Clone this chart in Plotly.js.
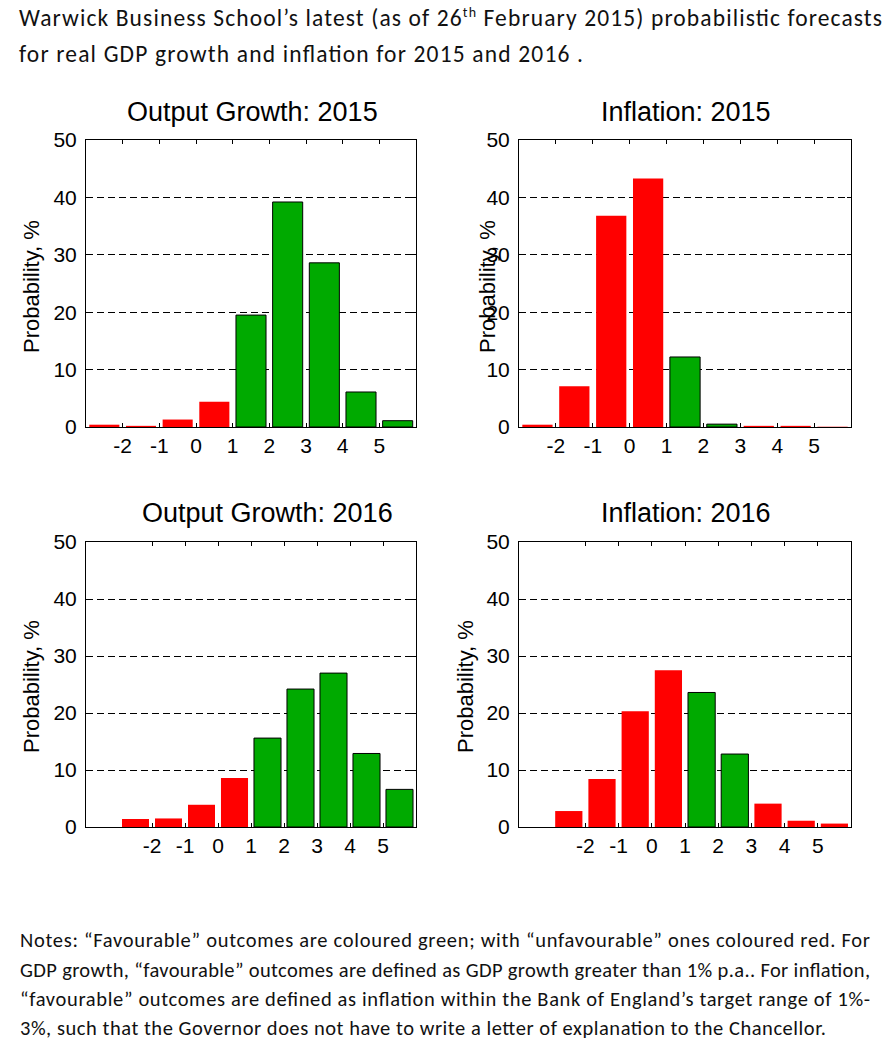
<!DOCTYPE html>
<html>
<head>
<meta charset="utf-8">
<script src="https://cdn.plot.ly/plotly-3.0.1.min.js"></script>
<style>
  html, body { margin: 0; padding: 0; background: #fff; }
  #wrap { position: relative; width: 890px; height: 1053px; overflow: hidden; }
  #chart { position: absolute; left: 0; top: 0; width: 890px; height: 1053px; }
  #txt { position: absolute; left: 0; top: 0; pointer-events: none; }
  #txt text { font-family: Carlito, Calibri, Lato, "Open Sans", sans-serif; fill: #111; }
</style>
</head>
<body>
<div id="wrap">
  <div id="chart"></div>
  <svg id="txt" width="890" height="1053">
    <text x="19" y="26" font-size="23.5" textLength="863" lengthAdjust="spacing">Warwick Business School’s latest (as of 26<tspan font-size="14" dy="-9">th</tspan><tspan dy="9"> February 2015) probabilistic forecasts</tspan></text>
    <text x="19" y="62" font-size="23.5" textLength="564" lengthAdjust="spacing">for real GDP growth and inflation for 2015 and 2016 .</text>
    <text x="20" y="947" font-size="20.5" textLength="850" lengthAdjust="spacing">Notes: “Favourable” outcomes are coloured green; with “unfavourable” ones coloured red. For</text>
    <text x="20" y="977" font-size="20.5" textLength="850" lengthAdjust="spacing">GDP growth, “favourable” outcomes are defined as GDP growth greater than 1% p.a.. For inflation,</text>
    <text x="20" y="1006" font-size="20.5" textLength="850" lengthAdjust="spacing">“favourable” outcomes are defined as inflation within the Bank of England’s target range of 1%-</text>
    <text x="20" y="1035" font-size="20.5" textLength="806" lengthAdjust="spacing">3%, such that the Governor does not have to write a letter of explanation to the Chancellor.</text>
  </svg>
</div>
<script>
// ---- data ----
const bins = [-2.5, -1.5, -0.5, 0.5, 1.5, 2.5, 3.5, 4.5, 5.5];
const gdp2015 = [0.4, 0.2, 1.3, 4.4, 19.5, 39.2, 28.6, 6.1, 1.1];
const inflation2015 = [0.4, 7.1, 36.8, 43.3, 12.2, 0.5, 0.2, 0.2, 0.05];
const gdp2016 = [1.4, 1.5, 3.9, 8.6, 15.6, 24.2, 27.0, 12.9, 6.6];
const inflation2016 = [2.8, 8.4, 20.3, 27.5, 23.6, 12.8, 4.1, 1.1, 0.6];
const tickVals = [-2, -1, 0, 1, 2, 3, 4, 5];
const tickText = ['-2', '-1', '0', '1', '2', '3', '4', '5'];
const yTickVals = [0, 10, 20, 30, 40, 50];
const panelTitles = ['Output Growth: 2015', 'Inflation: 2015', 'Output Growth: 2016', 'Inflation: 2016'];
const yTitle = 'Probability, %';

// favourable rules
const gdpFav = x => x > 1;
const infFav = x => x > 1 && x < 3;

const GREEN = '#00AA00', RED = '#FF0000';
const W = 890, H = 1053;
const px = v => v / W;
const py = v => 1 - v / H;

function barTrace(vals, fav, xa, ya) {
  const cols = bins.map(b => fav(b) ? GREEN : RED);
  const lcols = bins.map(b => fav(b) ? '#000' : RED);
  const lw = bins.map(b => fav(b) ? 1 : 0);
  return {
    type: 'bar', x: bins, y: vals, width: 0.82, xaxis: xa, yaxis: ya,
    marker: { color: cols, line: { color: lcols, width: lw } },
    hoverinfo: 'x+y', showlegend: false
  };
}

const data = [
  barTrace(gdp2015, gdpFav, 'x', 'y'),
  barTrace(inflation2015, infFav, 'x2', 'y2'),
  barTrace(gdp2016, gdpFav, 'x3', 'y3'),
  barTrace(inflation2016, infFav, 'x4', 'y4')
];

const font = { family: 'Liberation Sans, Arial, sans-serif', color: '#000' };

function xAxis(dom, range, anchor) {
  return {
    domain: dom, range: range, anchor: anchor,
    tickmode: 'array', tickvals: tickVals, ticktext: tickText,
    ticks: 'inside', ticklen: 4, tickcolor: '#000', mirror: 'ticks',
    showline: true, linecolor: '#000', linewidth: 1,
    showgrid: false, zeroline: false,
    tickfont: { family: font.family, size: 21, color: '#000' },
    fixedrange: true
  };
}
function yAxis(dom, anchor) {
  return {
    domain: dom, range: [0, 50], anchor: anchor,
    tickmode: 'array', tickvals: yTickVals,
    ticks: 'inside', ticklen: 4, tickcolor: '#000', mirror: 'ticks',
    showline: true, linecolor: '#000', linewidth: 1,
    showgrid: true, gridcolor: '#000', gridwidth: 1, griddash: '7px,4px',
    zeroline: false, ticklabelstandoff: 4,
    tickfont: { family: font.family, size: 21, color: '#000' },
    fixedrange: true
  };
}

const xL = [px(86), px(416)], xR = [px(519), px(851)];
const yT = [py(427), py(140)], yB = [py(827), py(542)];

function ann(text, x, y, size, angle) {
  return {
    text: text, xref: 'paper', yref: 'paper', x: px(x), y: py(y),
    xanchor: 'center', yanchor: 'middle', showarrow: false,
    textangle: angle || 0,
    font: { family: font.family, size: size, color: '#000' }
  };
}

const layout = {
  width: W, height: H,
  margin: { l: 0, r: 0, t: 0, b: 0 },
  paper_bgcolor: 'rgba(0,0,0,0)', plot_bgcolor: '#fff',
  showlegend: false,
  xaxis: xAxis(xL, [-3, 6], 'y'),
  yaxis: yAxis(yT, 'x'),
  xaxis2: xAxis(xR, [-3, 6], 'y2'),
  yaxis2: yAxis(yT, 'x2'),
  xaxis3: xAxis(xL, [-4, 6], 'y3'),
  yaxis3: yAxis(yB, 'x3'),
  xaxis4: xAxis(xR, [-4, 6], 'y4'),
  yaxis4: yAxis(yB, 'x4'),
  annotations: [
    ann(panelTitles[0], 252, 112, 27),
    ann(panelTitles[1], 686, 112, 27),
    ann(panelTitles[2], 267, 513, 27),
    ann(panelTitles[3], 686, 513, 27),
    ann(yTitle, 31, 287, 22, -90),
    ann(yTitle, 487, 287, 22, -90),
    ann(yTitle, 31, 687, 22, -90),
    ann(yTitle, 465, 687, 22, -90)
  ]
};

Plotly.newPlot('chart', data, layout, { displayModeBar: false, staticPlot: true });
</script>
</body>
</html>
